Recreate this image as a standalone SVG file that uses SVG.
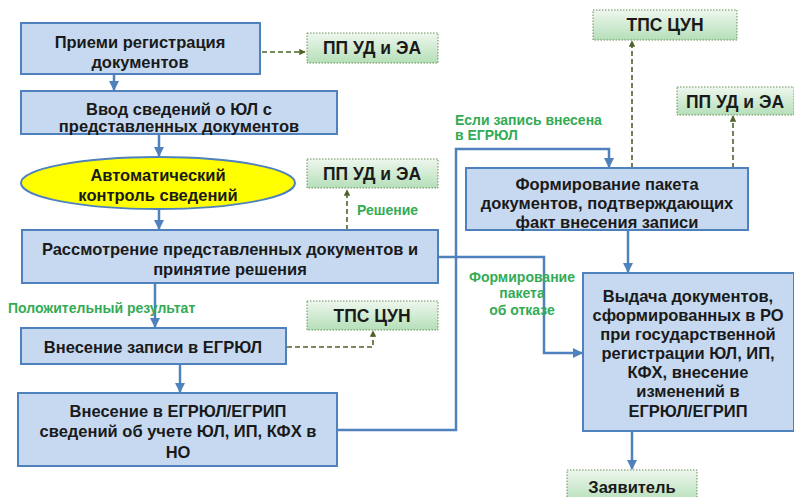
<svg xmlns="http://www.w3.org/2000/svg" width="794" height="497" viewBox="0 0 794 497">
<defs>
<linearGradient id="gg" x1="0" y1="0" x2="0" y2="1">
<stop offset="0" stop-color="#eef7ee"/>
<stop offset="1" stop-color="#b5dfb8"/>
</linearGradient>
<marker id="ab" viewBox="0 0 10 10" refX="9" refY="5" markerWidth="4" markerHeight="4" orient="auto"><path d="M0,0 L10,5 L0,10 z" fill="#4f81bd"/></marker>
<marker id="ad" viewBox="0 0 10 10" refX="9" refY="5" markerWidth="4" markerHeight="4" orient="auto"><path d="M0,0 L10,5 L0,10 z" fill="#4f6228"/></marker>
</defs>
<style>
.box{fill:#c6d9f1;stroke:#4f81bd;stroke-width:2}
.gbox{fill:url(#gg);stroke:#6b8e5a;stroke-width:1;stroke-dasharray:1.5 1.5}
.t{font-family:"Liberation Sans",Arial,sans-serif;font-weight:bold;font-size:16.5px;fill:#1a1a1a;text-anchor:middle}
.g{font-size:17.5px}
.lab{font-family:"Liberation Sans",Arial,sans-serif;font-weight:bold;font-size:14px;fill:#33ab55}
.c{fill:none;stroke:#4f81bd;stroke-width:2.5}
.d{fill:none;stroke:#4f6228;stroke-width:1.6;stroke-dasharray:5 3}
</style>
<rect width="794" height="497" fill="#ffffff"/>
<g id="connectors">
<path class="c" d="M114,74 V90" marker-end="url(#ab)"/>
<path class="c" d="M159,134 V156" marker-end="url(#ab)"/>
<path class="c" d="M159,209 V229" marker-end="url(#ab)"/>
<path class="c" d="M155,283 V327" marker-end="url(#ab)"/>
<path class="c" d="M180,364 V392" marker-end="url(#ab)"/>
<path class="c" d="M337,430 H456 V149 H609 V167" marker-end="url(#ab)"/>
<path class="c" d="M438,257 H544 V353 H582" marker-end="url(#ab)"/>
<path class="c" d="M628,230 V272" marker-end="url(#ab)"/>
<path class="c" d="M632,431 V469" marker-end="url(#ab)"/>
<path class="d" d="M262,52 H305" marker-end="url(#ad)"/>
<path class="d" d="M347,230 V190" marker-end="url(#ad)"/>
<path class="d" d="M287,347 H373 V331" marker-end="url(#ad)"/>
<path class="d" d="M632,168 V41" marker-end="url(#ad)"/>
<path class="d" d="M733,168 V116" marker-end="url(#ad)"/>
</g>
<g id="n1"><rect class="box" x="21" y="23" width="239" height="51"/>
<text class="t" x="140" y="48">Приеми регистрация</text><text class="t" x="140" y="68">документов</text></g>
<g id="n2"><rect class="box" x="21" y="91" width="316" height="43"/>
<text class="t" x="179" y="115">Ввод сведений о ЮЛ с</text><text class="t" x="179" y="132">представленных документов</text></g>
<g id="n3"><ellipse cx="158" cy="183" rx="137" ry="26" fill="#ffff00" stroke="#4f81bd" stroke-width="2"/>
<text class="t" x="158" y="181">Автоматический</text><text class="t" x="158" y="201">контроль сведений</text></g>
<g id="n4"><rect class="box" x="22" y="230" width="416" height="53"/>
<text class="t" x="230" y="255">Рассмотрение представленных документов и</text><text class="t" x="230" y="275">принятие решения</text></g>
<g id="n5"><rect class="box" x="21" y="328" width="265" height="36"/>
<text class="t" x="153" y="353">Внесение записи в ЕГРЮЛ</text></g>
<g id="n6"><rect class="box" x="18" y="393" width="319" height="73"/>
<text class="t" x="178" y="417">Внесение в ЕГРЮЛ/ЕГРИП</text><text class="t" x="178" y="437">сведений об учете ЮЛ, ИП, КФХ в</text><text class="t" x="178" y="458">НО</text></g>
<g id="n7"><rect class="gbox" x="307" y="33" width="131" height="30"/><text class="t g" x="372" y="54">ПП УД и ЭА</text></g>
<g id="n8"><rect class="gbox" x="307" y="159" width="131" height="29"/><text class="t g" x="372" y="180">ПП УД и ЭА</text></g>
<g id="n9"><rect class="gbox" x="307" y="301" width="131" height="29"/><text class="t g" x="372" y="322">ТПС ЦУН</text></g>
<g id="n10"><rect class="gbox" x="593" y="10" width="144" height="30"/><text class="t g" x="665" y="31">ТПС ЦУН</text></g>
<g id="n11"><rect class="gbox" x="677" y="87" width="117" height="28"/><text class="t g" x="735" y="108">ПП УД и ЭА</text></g>
<g id="n12"><rect class="box" x="466" y="168" width="282" height="62"/>
<text class="t" x="607" y="190">Формирование пакета</text><text class="t" x="607" y="209">документов, подтверждающих</text><text class="t" x="607" y="228">факт внесения записи</text></g>
<g id="n13"><rect class="box" x="583" y="273" width="211" height="158"/>
<text class="t" x="688" y="302">Выдача документов,</text><text class="t" x="688" y="321">сформированных в РО</text><text class="t" x="688" y="340">при государственной</text><text class="t" x="688" y="359">регистрации ЮЛ, ИП,</text><text class="t" x="688" y="378">КФХ, внесение</text><text class="t" x="688" y="397">изменений в</text><text class="t" x="688" y="417">ЕГРЮЛ/ЕГРИП</text></g>
<g id="n14"><rect class="gbox" x="567" y="470" width="130" height="32"/><text class="t" x="632" y="493">Заявитель</text></g>
<g id="labels">
<text class="lab" x="357" y="215">Решение</text>
<text class="lab" x="8" y="313">Положительный результат</text>
<text class="lab" x="455" y="125">Если запись внесена</text>
<text class="lab" x="455" y="140">в ЕГРЮЛ</text>
<text class="lab" x="522" y="282" text-anchor="middle">Формирование</text>
<text class="lab" x="522" y="298" text-anchor="middle">пакета</text>
<text class="lab" x="522" y="315" text-anchor="middle">об отказе</text>
</g>
</svg>
